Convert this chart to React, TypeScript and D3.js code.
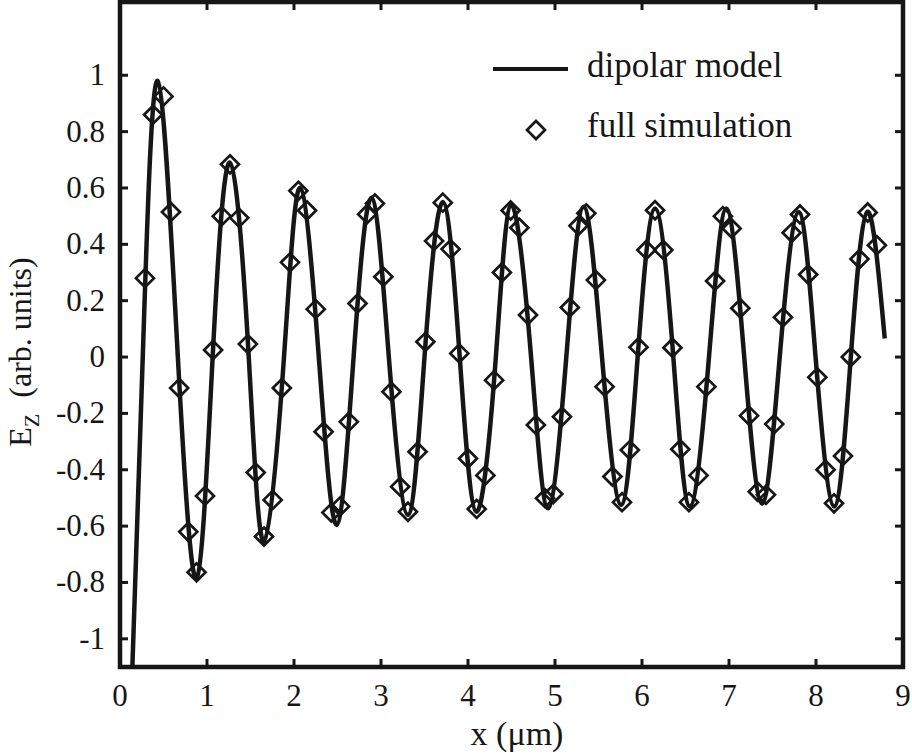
import * as d3 from 'd3';

// full simulation samples (x in µm, Ez in arb. units)
const simX = [
  0.287, 0.38, 0.5, 0.586, 0.68, 0.785, 0.88, 0.977, 1.07, 1.17, 1.264, 1.37, 1.47, 1.56, 1.655,
  1.755, 1.86, 1.954, 2.05, 2.15, 2.25, 2.34, 2.43, 2.53, 2.63, 2.73, 2.84, 2.93, 3.027, 3.12,
  3.22, 3.31, 3.42, 3.51, 3.61, 3.71, 3.8, 3.9, 4.0, 4.1, 4.2, 4.3, 4.39, 4.49, 4.59,
  4.69, 4.78, 4.885, 4.98, 5.08, 5.17, 5.27, 5.36, 5.47, 5.57, 5.66, 5.77, 5.86, 5.96, 6.05,
  6.15, 6.245, 6.35, 6.44, 6.54, 6.65, 6.74, 6.84, 6.93, 7.03, 7.13, 7.23, 7.33, 7.425, 7.52,
  7.62, 7.72, 7.816, 7.91, 8.015, 8.11, 8.207, 8.31, 8.4, 8.5, 8.594, 8.7,
];
const simY = [
  0.28, 0.86, 0.925, 0.515, -0.11, -0.62, -0.764, -0.493, 0.025, 0.5, 0.684, 0.494, 0.046, -0.41, -0.637,
  -0.507, -0.11, 0.336, 0.59, 0.52, 0.17, -0.265, -0.552, -0.53, -0.23, 0.19, 0.507, 0.545, 0.285, -0.123,
  -0.46, -0.549, -0.336, 0.054, 0.412, 0.548, 0.383, 0.013, -0.36, -0.539, -0.42, -0.082, 0.3, 0.52, 0.459,
  0.149, -0.241, -0.501, -0.486, -0.212, 0.176, 0.466, 0.51, 0.273, -0.105, -0.424, -0.515, -0.33, 0.035, 0.38,
  0.521, 0.38, 0.033, -0.327, -0.515, -0.42, -0.105, 0.27, 0.5, 0.456, 0.173, -0.208, -0.478, -0.489, -0.238,
  0.141, 0.441, 0.506, 0.293, -0.072, -0.4, -0.519, -0.351, 0.0, 0.348, 0.513, 0.397,
];

// dipolar model: peaks, zero crossings and troughs
const modelX = [
  0.14, 0.268, 0.433, 0.665, 0.88, 1.065, 1.264, 1.48, 1.655, 1.885, 2.07, 2.285, 2.49, 2.685,
  2.89, 3.09, 3.31, 3.5, 3.71, 3.905, 4.1, 4.32, 4.5, 4.725, 4.92, 5.13, 5.33, 5.54, 5.76,
  5.95, 6.15, 6.36, 6.55, 6.77, 6.97, 7.175, 7.38, 7.583, 7.8, 7.995, 8.21, 8.4, 8.59, 8.79,
];
const modelY = [
  -1.12, 0.06, 0.98, 0, -0.785, 0, 0.69, 0, -0.655, 0, 0.6, 0, -0.596, 0,
  0.565, 0, -0.56, 0, 0.55, 0, -0.549, 0, 0.54, 0, -0.537, 0, 0.533, 0, -0.525,
  0, 0.527, 0, -0.53, 0, 0.527, 0, -0.52, 0, 0.515, 0, -0.53, 0, 0.515, 0.066,
];

const xTicks = [0, 1, 2, 3, 4, 5, 6, 7, 8, 9];
const yTicks = [-1, -0.8, -0.6, -0.4, -0.2, 0, 0.2, 0.4, 0.6, 0.8, 1];

const W = 912;
const H = 754;
const INK = '#161616';
const txt = { fontFamily: "'Liberation Serif', 'DejaVu Serif', serif" };

export default function App() {
  const left = 120, right = 903, top = 2, bottom = 667;
  const x = d3.scaleLinear().domain([0, 9]).range([left, right]);
  const y = d3.scaleLinear().domain([-1.1, 1.26]).range([bottom, top]);

  const model = modelX.map((v, i) => [v, modelY[i]] as [number, number]);
  const sim = simX.map((v, i) => [v, simY[i]] as [number, number]);

  const line = d3.line<[number, number]>()
    .x(d => x(d[0])).y(d => y(d[1]))
    .curve(d3.curveNatural);

  const diamond = d3.symbol().type(d3.symbolDiamond2).size(206)() as string;
  const tickLen = 8;

  return (
    <svg width={W} height={H} style={{ position: 'absolute', left: 0, top: 0, background: '#fff' }}>
      <defs>
        <clipPath id="plot-clip">
          <rect x={left} y={top} width={right - left} height={bottom - top} />
        </clipPath>
      </defs>

      <g clipPath="url(#plot-clip)">
        <path d={line(model) ?? ''} fill="none" stroke={INK} strokeWidth={4.5} strokeLinejoin="round" />
        {sim.map((d, i) => (
          <path key={i} d={diamond} transform={`translate(${x(d[0])},${y(d[1])})`}
            fill="none" stroke={INK} strokeWidth={2.7} />
        ))}
      </g>

      {/* ticks, inward on all four sides */}
      {xTicks.slice(1, -1).map(t => (
        <g key={`xt${t}`} stroke={INK} strokeWidth={3}>
          <line x1={x(t)} x2={x(t)} y1={bottom} y2={bottom - tickLen} />
          <line x1={x(t)} x2={x(t)} y1={top} y2={top + tickLen} />
        </g>
      ))}
      {yTicks.map(t => (
        <g key={`yt${t}`} stroke={INK} strokeWidth={3}>
          <line x1={left} x2={left + tickLen} y1={y(t)} y2={y(t)} />
          <line x1={right} x2={right - tickLen} y1={y(t)} y2={y(t)} />
        </g>
      ))}

      <rect x={left} y={top} width={right - left} height={bottom - top}
        fill="none" stroke={INK} strokeWidth={4.5} />

      {xTicks.map(t => (
        <text key={`xl${t}`} style={txt} x={x(t)} y={706} textAnchor="middle" fontSize={31} fill={INK}>{t}</text>
      ))}
      {yTicks.map(t => (
        <text key={`yl${t}`} style={txt} x={105} y={y(t) + 10} textAnchor="end" fontSize={31} fill={INK}>{t}</text>
      ))}

      <text style={txt} x={517} y={745} textAnchor="middle" fontSize={34} fill={INK}>x (μm)</text>
      <text style={txt} transform="translate(31,352) rotate(-90)" textAnchor="middle" fontSize={32} fill={INK}>
        E<tspan fontSize={22} dy={8}>Z</tspan><tspan dy={-8}>{'\u00a0\u00a0(arb. units)'}</tspan>
      </text>

      {/* legend */}
      <line x1={493} x2={568} y1={69} y2={69} stroke={INK} strokeWidth={4} />
      <text style={txt} x={587} y={77} fontSize={35} fill={INK}>dipolar model</text>
      <path d={diamond} transform="translate(536,130)" fill="none" stroke={INK} strokeWidth={2.7} />
      <text style={txt} x={587} y={137} fontSize={35} fill={INK}>full simulation</text>
    </svg>
  );
}
